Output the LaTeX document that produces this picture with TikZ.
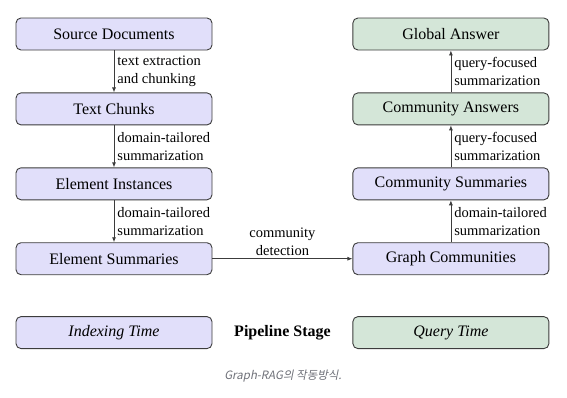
\documentclass[tikz,border=0pt]{standalone}
\usepackage{fontspec}
\setmainfont{Liberation Serif}
\newfontfamily\capfont[FakeSlant=0.2]{Noto Sans CJK KR}
\usetikzlibrary{arrows.meta, positioning}
\definecolor{indexfill}{RGB}{225,223,250}
\definecolor{queryfill}{RGB}{212,230,216}
\definecolor{edgegray}{RGB}{60,60,60}
\definecolor{captiongray}{RGB}{110,112,120}
\tikzset{
  stage/.style={rectangle, rounded corners=5pt, draw=edgegray, line width=0.9pt, minimum width=196pt, minimum height=32pt, align=center, font=\fontsize{16}{19}\selectfont},
  indexstage/.style={stage, fill=indexfill},
  querystage/.style={stage, fill=queryfill},
  arrow/.style={-{Latex[length=5pt, width=4pt]}, line width=0.8pt, draw=edgegray},
  steplabel/.style={font=\fontsize{14.5}{18}\selectfont, align=left, inner sep=3pt},
}

\begin{document}
\begin{tikzpicture}[node distance=42pt and 140pt]
\useasboundingbox (0,0) rectangle (567pt,-397pt);
\node[indexstage] (source) at (114pt,-34pt) {Source Documents};
\node[indexstage, below=of source] (chunks) {Text Chunks};
\node[indexstage, below=of chunks] (instances) {Element Instances};
\node[indexstage, below=of instances] (elemsum) {Element Summaries};
\node[indexstage, right=of elemsum] (communities) {Graph Communities};
\node[indexstage, above=of communities] (commsum) {Community Summaries};
\node[querystage, above=of commsum] (commans) {Community Answers};
\node[querystage, above=of commans] (global) {Global Answer};
\node[indexstage, below=41pt of elemsum] (indexing) {\textit{Indexing Time}};
\node[querystage, below=41pt of communities] (querying) {\textit{Query Time}};
\path (indexing) -- node[font=\fontsize{16}{19}\selectfont\bfseries] (pipeline) {Pipeline Stage} (querying);
\node[font=\capfont\fontsize{11.5}{14}\selectfont, text=captiongray] (caption) at (283pt,-376pt) {Graph-RAG의 작동방식.};
\draw[arrow] (source) -- node[steplabel, right] {text extraction\\and chunking} (chunks);
\draw[arrow] (chunks) -- node[steplabel, right] {domain-tailored\\summarization} (instances);
\draw[arrow] (instances) -- node[steplabel, right] {domain-tailored\\summarization} (elemsum);
\draw[arrow] (elemsum) -- node[steplabel, above, align=center] {community\\detection} (communities);
\draw[arrow] (communities) -- node[steplabel, right] {domain-tailored\\summarization} (commsum);
\draw[arrow] (commsum) -- node[steplabel, right] {query-focused\\summarization} (commans);
\draw[arrow] (commans) -- node[steplabel, right] {query-focused\\summarization} (global);
\end{tikzpicture}
\end{document}
